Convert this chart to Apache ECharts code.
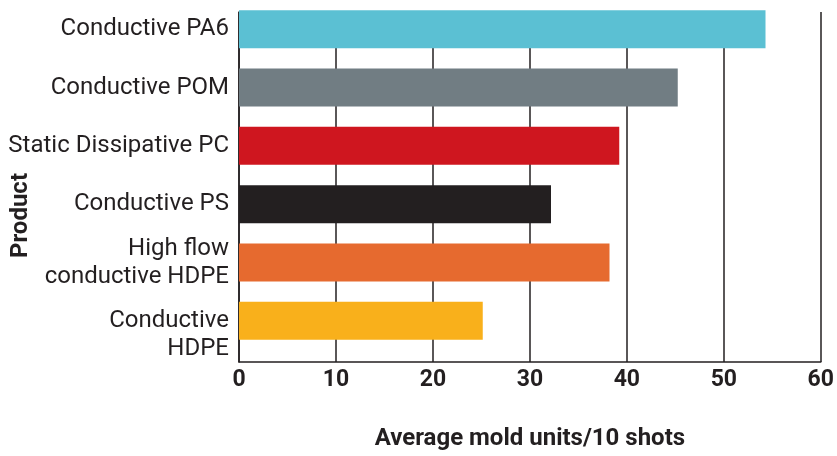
<!DOCTYPE html>
<html>
<head>
<meta charset="utf-8">
<script src="https://cdn.jsdelivr.net/npm/echarts@6/dist/echarts.min.js"></script>
<style>
  html, body { margin: 0; padding: 0; background: #fff; }
  #chartArea { width: 837px; height: 456px; }
</style>
</head>
<body>
<div id="chartArea"></div>
<script>
// data
var products = ['Conductive PA6', 'Conductive POM', 'Static Dissipative PC', 'Conductive PS', 'High flow\nconductive HDPE', 'Conductive\nHDPE'];
var moldUnits = [54, 45, 39, 32, 38, 25];
var barColors = ['#5bc0d3', '#717d83', '#cf161f', '#231f20', '#e66a2f', '#f9b01b'];
var xTicks = [0, 10, 20, 30, 40, 50, 60];

var fontName = 'Roboto';
var ink = '#231f20';

var option = {
    animation: false,
    grid: [
        // bars
        {left: 239, right: 13, top: -1, height: 351},
        // axes frame + grid lines
        {left: 239, right: 13, top: 12, bottom: 86}
    ],
    xAxis: [
        {gridIndex: 0, type: 'value', min: xTicks[0], max: xTicks[xTicks.length - 1], interval: 10, show: false},
        {
            gridIndex: 1, type: 'value', min: xTicks[0], max: xTicks[xTicks.length - 1], interval: 10,
            name: 'Average mold units/10 shots',
            nameLocation: 'middle',
            nameGap: 65,
            nameTextStyle: {fontFamily: fontName, fontWeight: 'bold', fontSize: 24, color: ink},
            axisLine: {show: true, lineStyle: {color: ink, width: 1.5}},
            axisTick: {show: false},
            axisLabel: {fontFamily: fontName, fontWeight: 'bold', fontSize: 23, color: ink, margin: 7},
            splitLine: {show: true, lineStyle: {color: ink, width: 1.5}}
        }
    ],
    yAxis: [
        {
            gridIndex: 0, type: 'category', data: products, inverse: true,
            axisLine: {show: false},
            axisTick: {show: false},
            axisLabel: {
                interval: 0, fontFamily: fontName, fontSize: 24, color: ink, margin: 10, lineHeight: 28,
                // the last label sits lower than its bar in the original
                formatter: function (v, i) {
                    return i === products.length - 1 ? '\n' + v : v;
                }
            }
        },
        {
            gridIndex: 1, type: 'value', min: 0, max: 1,
            axisLine: {show: true, lineStyle: {color: ink, width: 1.5}},
            axisTick: {show: false},
            axisLabel: {show: false},
            splitLine: {show: false}
        }
    ],
    graphic: [{
        type: 'text',
        left: 9,
        top: 173,
        rotation: Math.PI / 2,
        style: {text: 'Product', fontFamily: fontName, fontWeight: 'bold', fontSize: 24, fill: ink}
    }],
    series: [{
        type: 'bar',
        xAxisIndex: 0,
        yAxisIndex: 0,
        barWidth: 38,
        data: moldUnits.map(function (v, i) {
            return {value: v, itemStyle: {color: barColors[i]}};
        })
    }]
};

var myChart = echarts.init(document.getElementById('chartArea'));
myChart.setOption(option);
</script>
</body>
</html>
